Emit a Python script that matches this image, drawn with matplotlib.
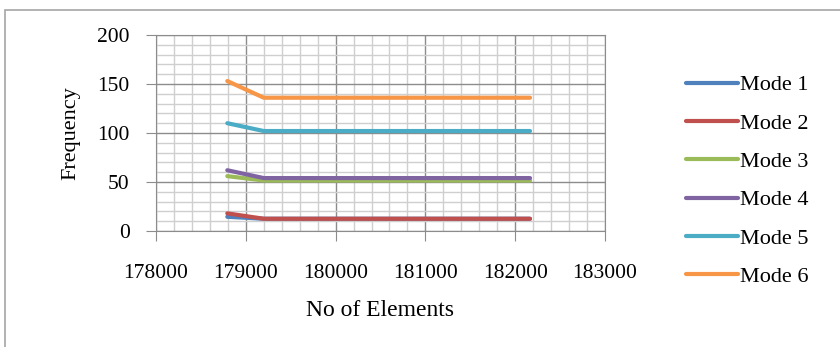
import matplotlib
matplotlib.use("Agg")
import matplotlib.pyplot as plt
from matplotlib.patches import Rectangle
from matplotlib.ticker import MultipleLocator

elements = [178794, 179200, 182165]
mode1 = [14.5, 12.5, 12.5]
mode2 = [18, 12.5, 12.5]
mode3 = [56, 51.5, 51.5]
mode4 = [62, 54, 54]
mode5 = [110, 102, 102]
mode6 = [153, 136, 136]
labels = ["Mode 1", "Mode 2", "Mode 3", "Mode 4", "Mode 5", "Mode 6"]
colors = ["#4F81BD", "#C0504D", "#9BBB59", "#8064A2", "#4BACC6", "#F79646"]

plt.rcParams['font.family'] = ['Liberation Serif', 'DejaVu Serif']

fig = plt.figure(figsize=(8.4, 3.47), dpi=100)
ax = fig.add_axes([156/840, 1-231/347, (605-156)/840, (231-35)/347])

for ys, lab, c in zip([mode1, mode2, mode3, mode4, mode5, mode6], labels, colors):
    ax.plot(elements, ys, color=c, lw=3, label=lab, solid_capstyle='round', zorder=3)

ax.set_xlim(178000, 183000)
ax.set_ylim(0, 200)
ax.xaxis.set_major_locator(MultipleLocator(1000))
ax.xaxis.set_minor_locator(MultipleLocator(200))
ax.yaxis.set_major_locator(MultipleLocator(50))
ax.yaxis.set_minor_locator(MultipleLocator(10))
ax.grid(which='major', color='#8c8c8c', lw=1.0, zorder=1)
ax.grid(which='minor', color='#cfcfcf', lw=1.0, zorder=0)
for s in ax.spines.values():
    s.set_color('#8c8c8c')
ax.tick_params(which='major', length=7, color='#8c8c8c', labelsize=15.5, pad=12)
ax.tick_params(axis='x', which='major', pad=17)
ax.tick_params(which='minor', length=0)

ax.set_xlabel("No of Elements", fontsize=17, labelpad=12)
ax.set_ylabel("Frequency", fontsize=16, labelpad=12)

leg = ax.legend(loc='center left', bbox_to_anchor=(686/840, 1-181/347),
                bbox_transform=fig.transFigure, frameon=False, fontsize=16,
                handlelength=2.35, handletextpad=0.1, labelspacing=0.8,
                borderpad=0, borderaxespad=0)

fig.patches.append(Rectangle((5/840, -0.1), 1.2, 1.1 - 10/347, transform=fig.transFigure,
                             fill=False, edgecolor='#a6a6a6', lw=1.2, figure=fig))

fig.savefig("out.png", dpi=100)
